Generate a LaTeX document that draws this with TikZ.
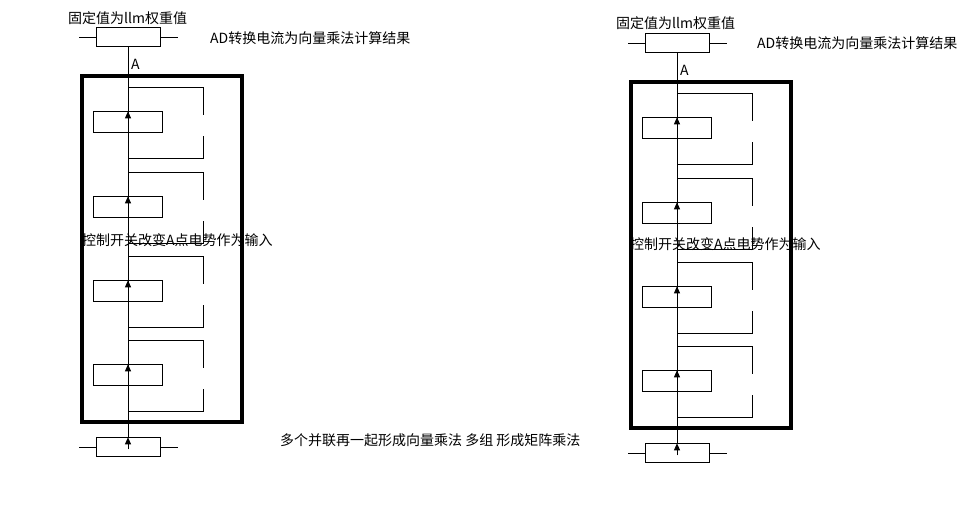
\documentclass[tikz,border=0pt]{standalone}
\usepackage{fontspec}
\setmainfont{Noto Sans CJK SC}
\usetikzlibrary{arrows.meta}

\tikzset{
    cell/.style={draw, minimum width=69pt, minimum height=21pt, inner sep=0pt},
    endcell/.style={draw, minimum width=64pt, minimum height=19pt, inner sep=0pt},
    wire/.style={line width=0.8pt},
    txt/.style={font=\fontsize{14}{16}\selectfont, inner sep=0pt}
}

% one column of the array: #1 name prefix, #2 x shift, #3 y shift
\newcommand{\arraycol}[3]{
    \begin{scope}[shift={(#2,#3)}]
        % frame
        \draw[line width=4pt] (82,76) rectangle (242,422);
        % top and bottom cells
        \node[endcell] (#1top) at (128,37) {};
        \node[endcell] (#1bot) at (128,447) {};
        \draw[wire] (79,37) -- (#1top.west) (#1top.east) -- (178,37);
        \draw[wire] (79,447) -- (#1bot.west) (#1bot.east) -- (178,447);
        \node[txt, anchor=south west] (#1lblA) at (131,70) {A};
        % four switch units
        \foreach \t/\k in {87/1, 172/2, 256/3, 340/4} {
            \node[cell] (#1c\k) at (128,\t+35) {};
            \draw[wire] (128,\t) -- (203,\t) -- (203,\t+28);
            \draw[wire] (203,\t+49) -- (203,\t+71) -- (128,\t+71);
        }
        % main line
        \draw[wire] (#1top.south) -- (#1bot.north);
        \foreach \k in {1,...,4}
            \draw[wire, -{Triangle[width=6pt,length=7pt]}] ([yshift=-22pt]#1c\k.north) -- (#1c\k.north);
        \draw[wire, -{Triangle[width=6pt,length=7pt]}] ([yshift=-12pt]#1bot.north) -- (#1bot.north);
    \end{scope}
}

\begin{document}
\begin{tikzpicture}[x=1pt, y=-1pt]
    \useasboundingbox (0,0) rectangle (970,507);
    \fill[white] (0,0) rectangle (970,507);

    % left column
    \arraycol{l}{0}{0}
    \node[txt, anchor=west] (lw) at (68,18) {固定值为llm权重值};
    \node[txt, anchor=west] (lad) at (210,38) {AD转换电流为向量乘法计算结果};
    \node[txt, anchor=west] (lctl) at (82,240) {控制开关改变A点电势作为输入};
    \node[txt, anchor=west] (lsum) at (280,440) {多个并联再一起形成向量乘法 多组 形成矩阵乘法};

    % right column
    \arraycol{r}{549}{6}
    \node[txt, anchor=west] (rw) at (616,23) {固定值为llm权重值};
    \node[txt, anchor=west] (rad) at (757,43) {AD转换电流为向量乘法计算结果};
    \node[txt, anchor=west] (rctl) at (630,244) {控制开关改变A点电势作为输入};
\end{tikzpicture}
\end{document}
